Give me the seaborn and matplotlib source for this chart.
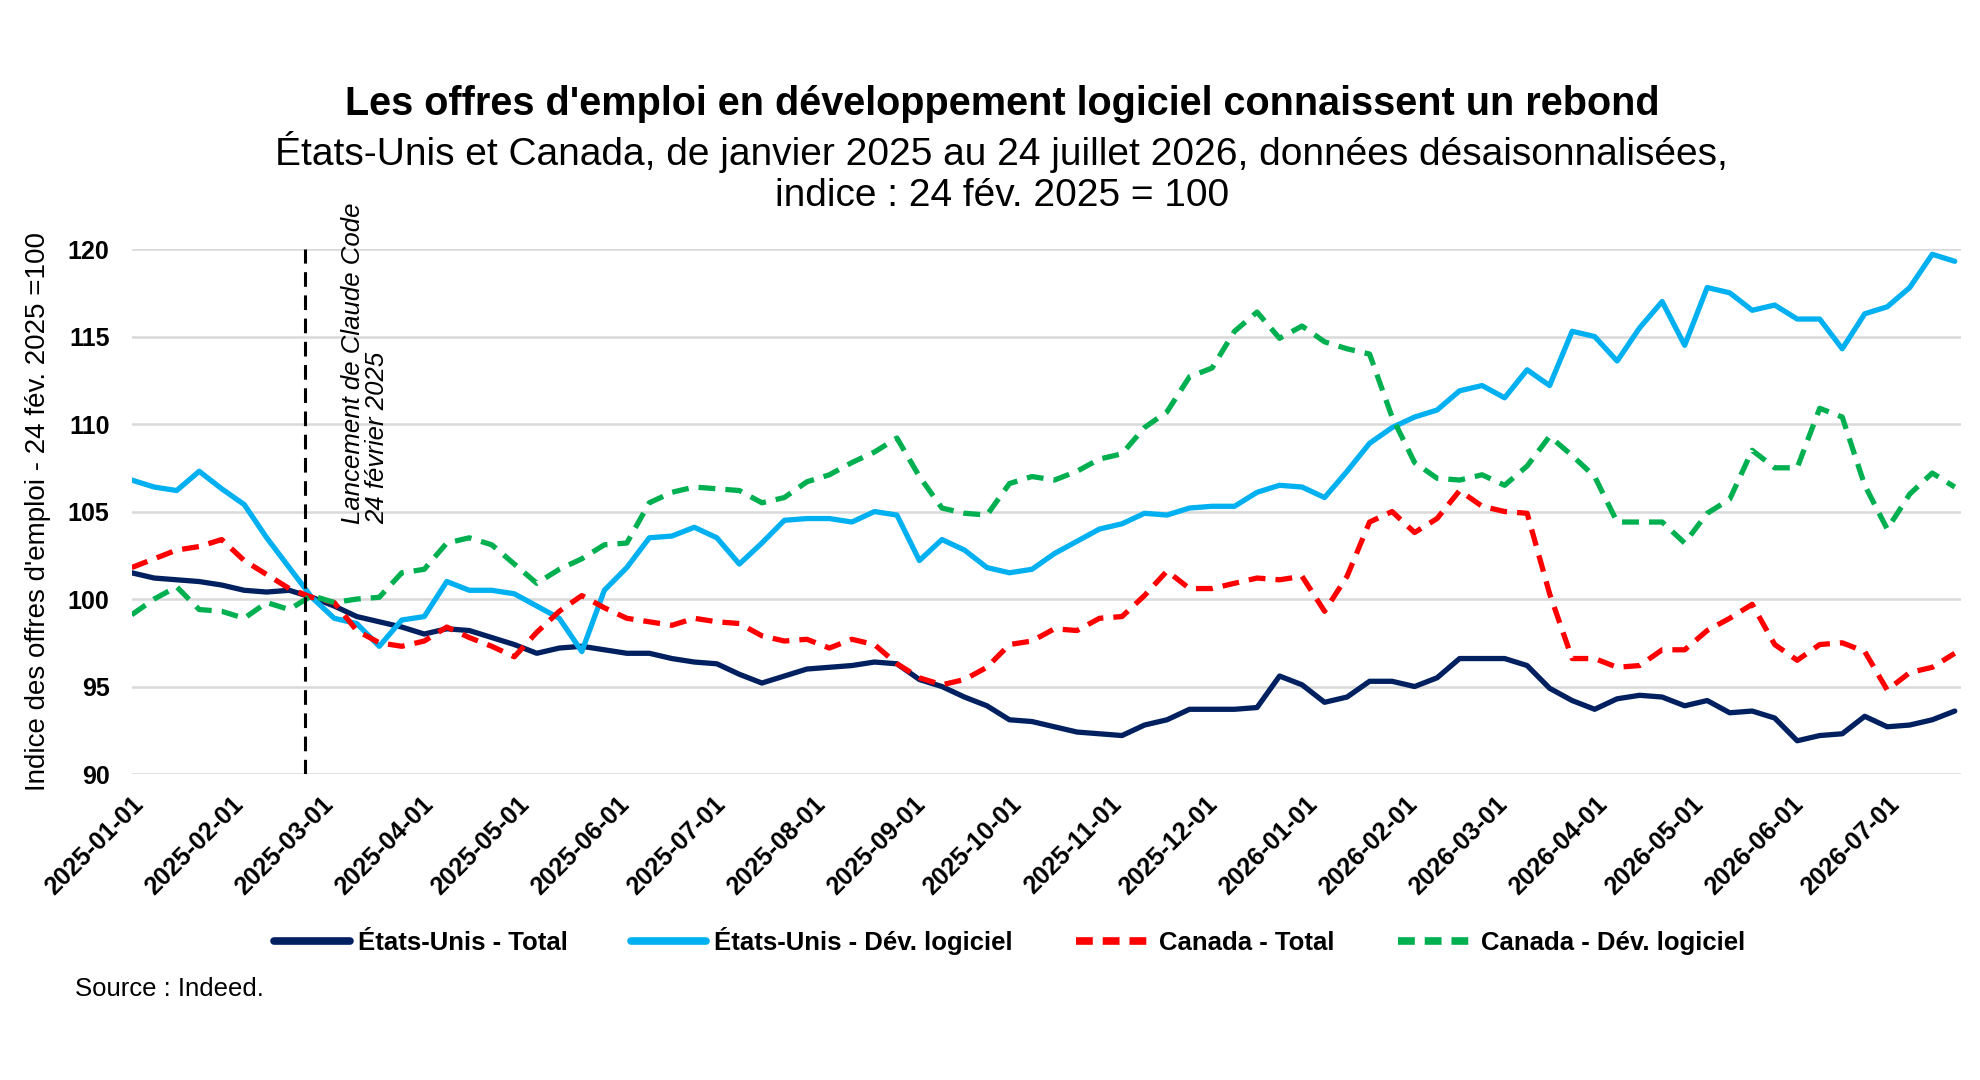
import pandas as pd
import numpy as np
import matplotlib
matplotlib.use('Agg')
import matplotlib.pyplot as plt
import matplotlib.dates as mdates
from matplotlib.lines import Line2D
import seaborn as sns

sns.set_style('white')
plt.rcParams['font.family'] = ['Liberation Sans', 'DejaVu Sans']
plt.rcParams.update({'text.color': 'black', 'axes.labelcolor': 'black',
                     'xtick.color': 'black', 'ytick.color': 'black'})

# Weekly readings, starting 2025-01-01
dates = pd.date_range('2025-01-01', periods=82, freq='7D')

us_total = [
    101.5, 101.2, 101.1, 101.0, 100.8, 100.5, 100.4, 100.5, 100.1, 99.6,
    99.0, 98.7, 98.4, 98.0, 98.3, 98.2, 97.8, 97.4, 96.9, 97.2,
    97.3, 97.1, 96.9, 96.9, 96.6, 96.4, 96.3, 95.7, 95.2, 95.6,
    96.0, 96.1, 96.2, 96.4, 96.3, 95.4, 95.0, 94.4, 93.9, 93.1,
    93.0, 92.7, 92.4, 92.3, 92.2, 92.8, 93.1, 93.7, 93.7, 93.7,
    93.8, 95.6, 95.1, 94.1, 94.4, 95.3, 95.3, 95.0, 95.5, 96.6,
    96.6, 96.6, 96.2, 94.9, 94.2, 93.7, 94.3, 94.5, 94.4, 93.9,
    94.2, 93.5, 93.6, 93.2, 91.9, 92.2, 92.3, 93.3, 92.7, 92.8,
    93.1, 93.6]

us_dev = [
    106.8, 106.4, 106.2, 107.3, 106.3, 105.4, 103.5, 101.8, 100.1, 98.9,
    98.6, 97.3, 98.8, 99.0, 101.0, 100.5, 100.5, 100.3, 99.6, 98.9,
    97.0, 100.5, 101.8, 103.5, 103.6, 104.1, 103.5, 102.0, 103.2, 104.5,
    104.6, 104.6, 104.4, 105.0, 104.8, 102.2, 103.4, 102.8, 101.8, 101.5,
    101.7, 102.6, 103.3, 104.0, 104.3, 104.9, 104.8, 105.2, 105.3, 105.3,
    106.1, 106.5, 106.4, 105.8, 107.3, 108.9, 109.8, 110.4, 110.8, 111.9,
    112.2, 111.5, 113.1, 112.2, 115.3, 115.0, 113.6, 115.5, 117.0, 114.5,
    117.8, 117.5, 116.5, 116.8, 116.0, 116.0, 114.3, 116.3, 116.7, 117.8,
    119.7, 119.3]

ca_total = [
    101.8, 102.3, 102.8, 103.0, 103.4, 102.2, 101.4, 100.6, 100.1, 99.8,
    98.2, 97.5, 97.3, 97.6, 98.4, 97.8, 97.3, 96.7, 98.1, 99.3,
    100.2, 99.5, 98.9, 98.7, 98.5, 98.9, 98.7, 98.6, 97.9, 97.6,
    97.7, 97.2, 97.7, 97.4, 96.3, 95.5, 95.1, 95.4, 96.1, 97.4,
    97.6, 98.3, 98.2, 98.9, 99.0, 100.2, 101.6, 100.6, 100.6, 100.9,
    101.2, 101.1, 101.3, 99.3, 101.3, 104.4, 105.0, 103.8, 104.6, 106.2,
    105.3, 105.0, 104.9, 100.3, 96.6, 96.6, 96.1, 96.2, 97.1, 97.1,
    98.2, 98.9, 99.7, 97.4, 96.5, 97.4, 97.5, 97.0, 94.8, 95.8,
    96.1, 96.9]

ca_dev = [
    99.1, 100.0, 100.7, 99.4, 99.3, 98.9, 99.8, 99.4, 100.2, 99.8,
    100.0, 100.1, 101.5, 101.7, 103.2, 103.5, 103.1, 102.0, 100.9, 101.7,
    102.3, 103.1, 103.2, 105.5, 106.1, 106.4, 106.3, 106.2, 105.5, 105.8,
    106.7, 107.1, 107.8, 108.4, 109.2, 107.0, 105.2, 104.9, 104.8, 106.6,
    107.0, 106.8, 107.3, 108.0, 108.3, 109.8, 110.7, 112.7, 113.2, 115.3,
    116.4, 114.9, 115.6, 114.7, 114.3, 114.0, 110.4, 107.8, 106.9, 106.8,
    107.1, 106.5, 107.6, 109.3, 108.2, 107.0, 104.4, 104.4, 104.4, 103.2,
    104.9, 105.7, 108.5, 107.5, 107.5, 110.9, 110.4, 106.5, 104.0, 106.0,
    107.2, 106.4]

labels = ['États-Unis - Total', 'États-Unis - Dév. logiciel',
          'Canada - Total', 'Canada - Dév. logiciel']
colors = ['#002060', '#00B0F0', '#FF0000', '#00B050']
dashed = [False, False, True, True]

df = pd.DataFrame({'date': dates, labels[0]: us_total, labels[1]: us_dev,
                   labels[2]: ca_total, labels[3]: ca_dev})

fig = plt.figure(figsize=(19.8, 10.8), dpi=100)
ax = fig.add_axes([0.0665, 0.2833, 0.924, 0.4861])

lw = 3.8
dash_pat = (3.2, 1.9)
for lab, col, dsh in zip(labels, colors, dashed):
    sns.lineplot(data=df, x='date', y=lab, ax=ax, color=col, linewidth=lw,
                 legend=False)
    if dsh:
        ax.lines[-1].set_dashes(dash_pat)

ax.set_ylim(90, 120)
ax.set_xlim(pd.Timestamp('2025-01-01'), pd.Timestamp('2026-07-24'))
ax.set_yticks(np.arange(90, 121, 5))
ax.yaxis.grid(True, color='#D9D9D9', linewidth=1.8)
ax.xaxis.grid(False)
ax.set_axisbelow(True)
for s in ax.spines.values():
    s.set_visible(False)

ax.xaxis.set_major_locator(mdates.MonthLocator())
ax.xaxis.set_major_formatter(mdates.DateFormatter('%Y-%m-%d'))
ax.tick_params(axis='x', length=0, pad=13)
ax.tick_params(axis='y', length=0, pad=16, labelsize=18)
for t in ax.get_yticklabels():
    t.set_fontweight('bold')
for t in ax.get_xticklabels():
    t.set_rotation(45)
    t.set_ha('right')
    t.set_rotation_mode('anchor')
    t.set_fontsize(18)
    t.set_fontweight('bold')

ax.set_xlabel('')
ax.set_ylabel("Indice des offres d'emploi - 24 fév. 2025 =100", fontsize=20)
ax.yaxis.set_label_coords(-0.044, 0.5)

# Claude Code launch marker
launch = pd.Timestamp('2025-02-24')
ax.axvline(launch, color='black', linewidth=2.2, dashes=(4.8, 2.8))
ax.text(pd.Timestamp('2025-03-07'), 104.3, 'Lancement de Claude Code\n24 février 2025',
        rotation=90, ha='left', va='bottom', multialignment='left',
        fontsize=18.5, fontstyle='italic', linespacing=1.0, clip_on=False)

fig.text(0.506, 0.904, "Les offres d'emploi en développement logiciel connaissent un rebond",
         ha='center', va='center', fontsize=28.5, fontweight='bold')
fig.text(0.506, 0.859, "États-Unis et Canada, de janvier 2025 au 24 juillet 2026, données désaisonnalisées,",
         ha='center', va='center', fontsize=28)
fig.text(0.506, 0.8185, "indice : 24 fév. 2025 = 100",
         ha='center', va='center', fontsize=28)

handles = []
for lab, col, dsh in zip(labels, colors, dashed):
    h = Line2D([0], [0], color=col, linewidth=5.5)
    if dsh:
        h.set_dashes((2.2, 1.3))
    handles.append(h)
leg = fig.legend(handles, labels, loc='center', bbox_to_anchor=(0.51, 0.129),
                 ncol=4, frameon=False, handlelength=2.95, handletextpad=0.3,
                 columnspacing=2.45, prop={'size': 18.5, 'weight': 'bold'})

fig.text(0.038, 0.084, 'Source : Indeed.', ha='left', va='center', fontsize=18.5)

plt.savefig('out.png', dpi=100)
